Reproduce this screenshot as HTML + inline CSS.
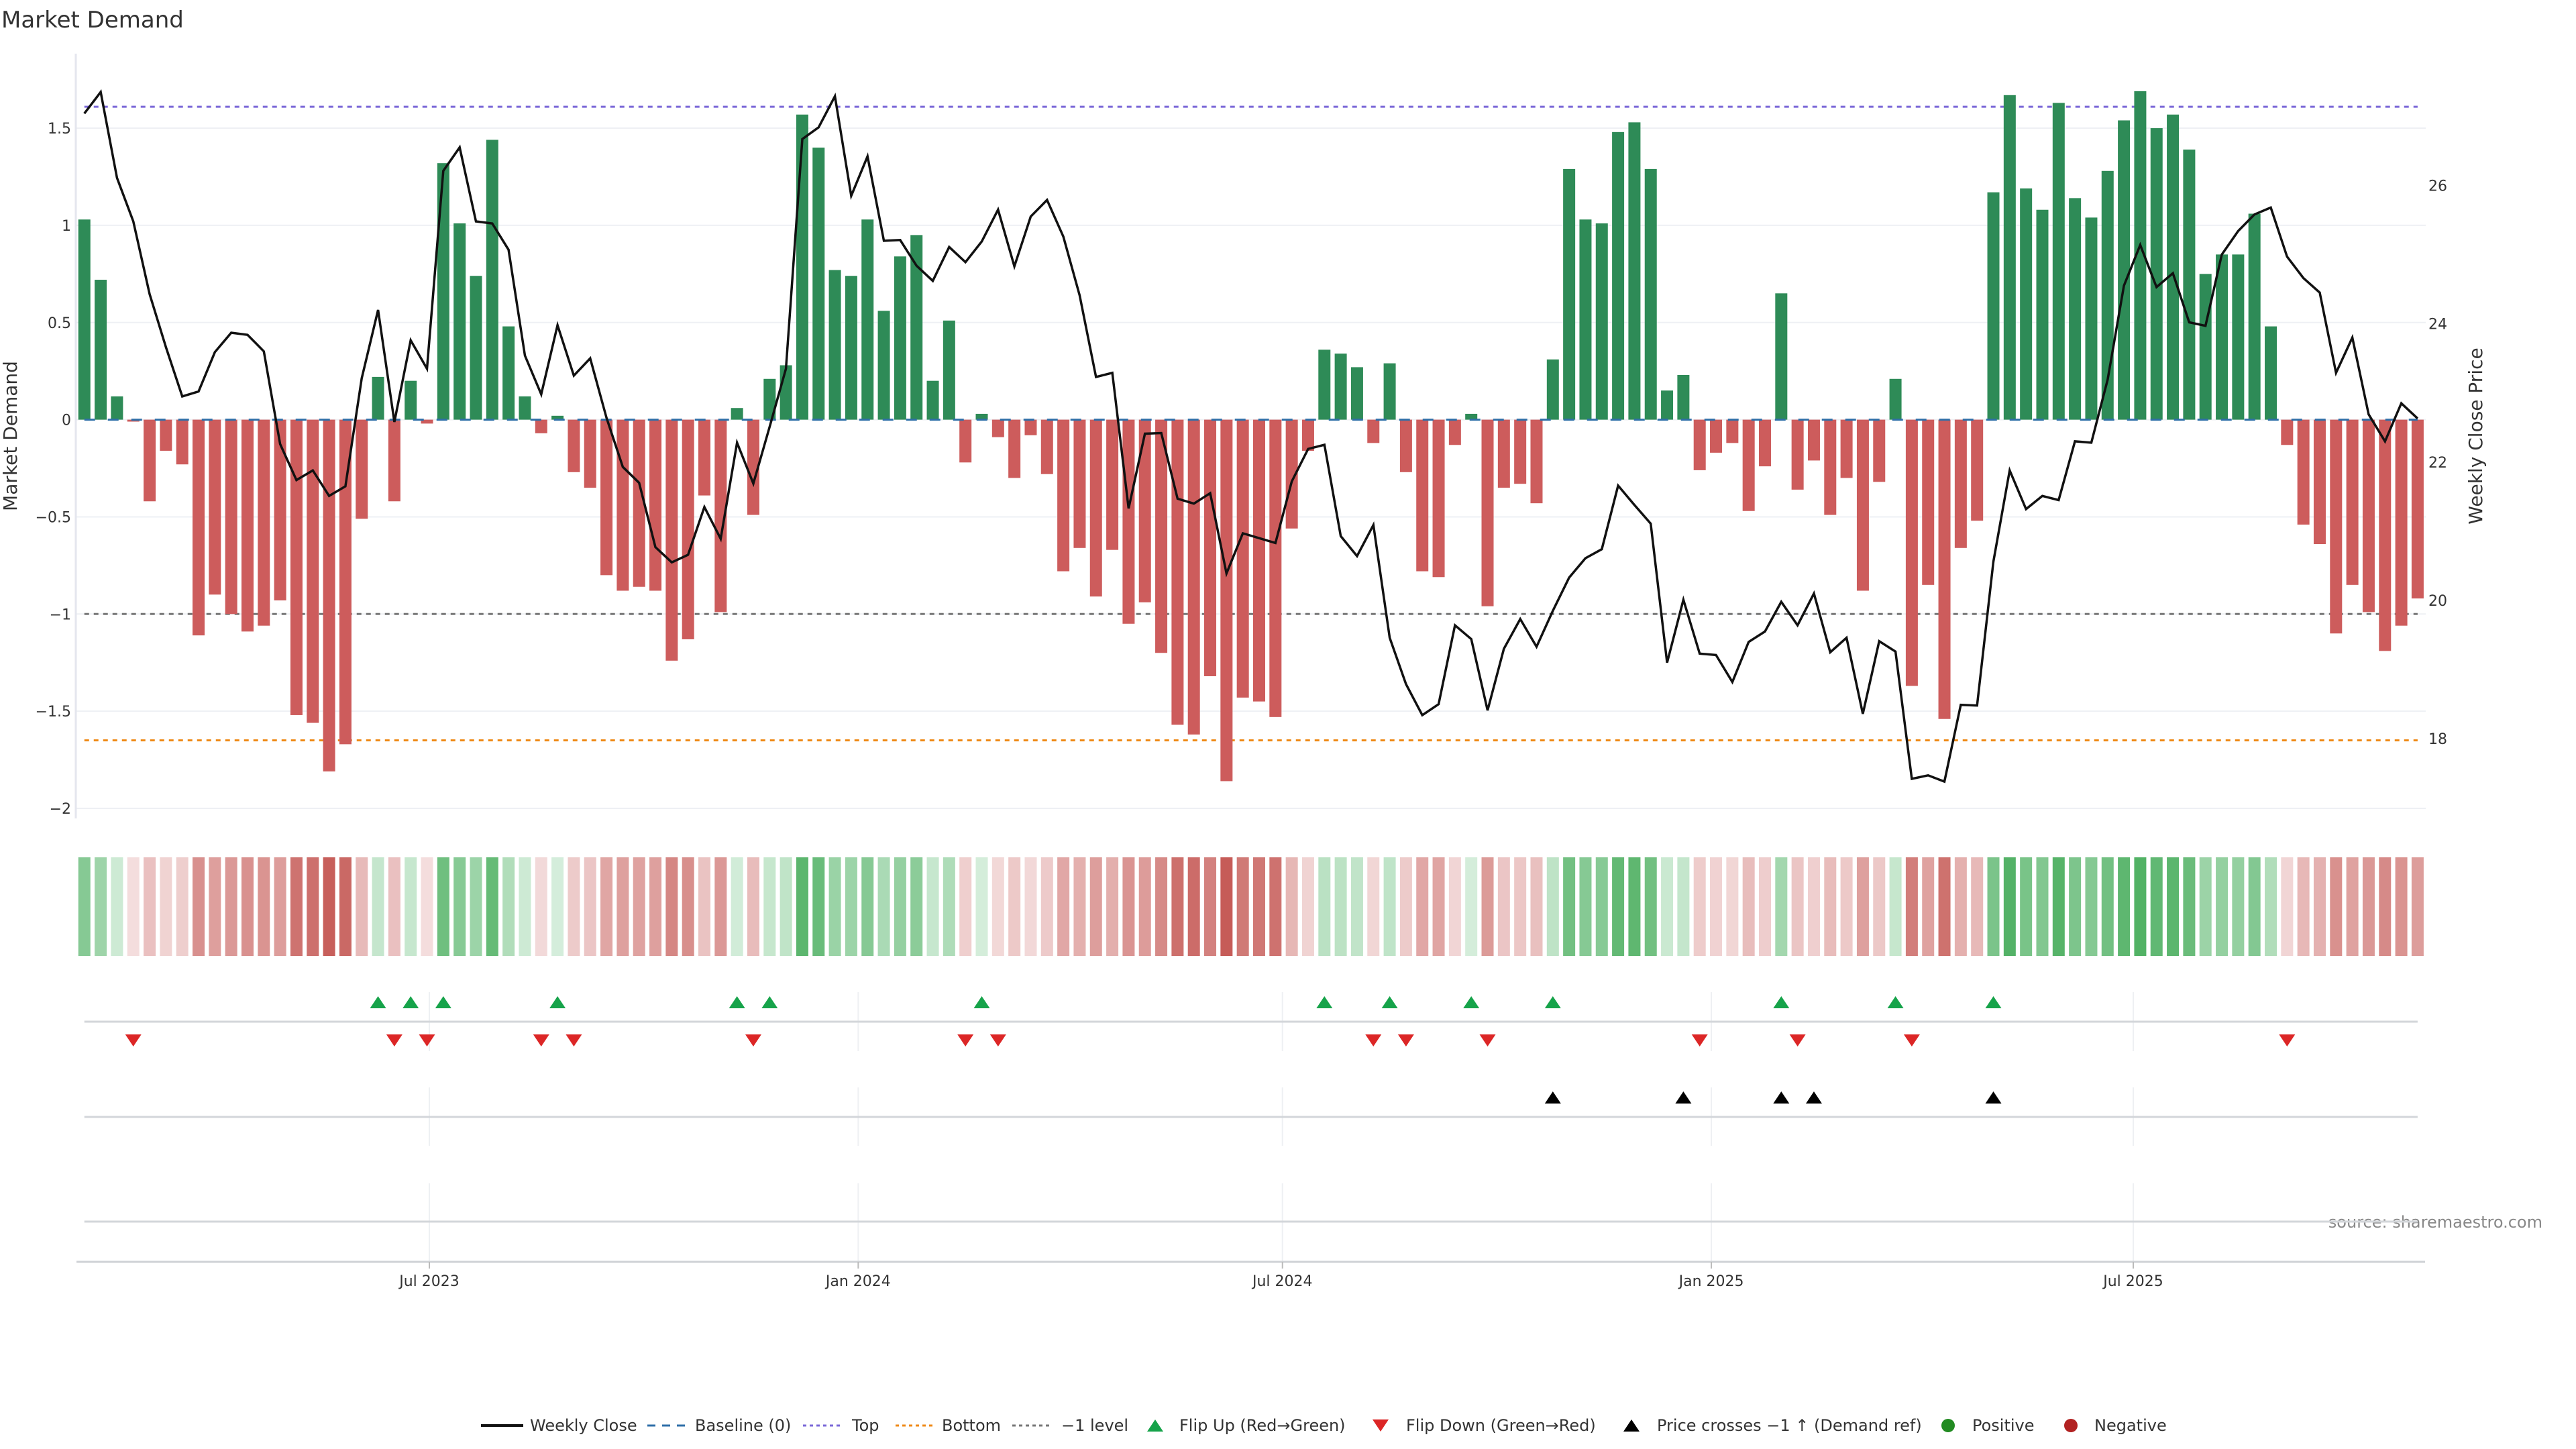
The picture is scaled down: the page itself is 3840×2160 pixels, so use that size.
<!DOCTYPE html>
<html><head><meta charset="utf-8"><title>Market Demand</title>
<style>
html,body{margin:0;padding:0;background:#fff;}
svg{display:block;font-family:"DejaVu Sans","Liberation Sans",sans-serif;}
</style></head>
<body>
<svg id="chart" width="3840" height="2160" viewBox="0 0 3840 2160" xmlns="http://www.w3.org/2000/svg">
<text x="2" y="41" font-size="34" fill="#333">Market Demand</text>
<text transform="translate(25,650) rotate(-90)" text-anchor="middle" font-size="28" fill="#333">Market Demand</text>
<text transform="translate(3700,650) rotate(-90)" text-anchor="middle" font-size="28" fill="#333">Weekly Close Price</text>
<text x="3790" y="1830" text-anchor="end" font-size="24" fill="#888">source: sharemaestro.com</text>
<g id="gGrid"></g><g id="gRef"></g><g id="gBars"></g><g id="gLine"></g><g id="gAxes"></g>
<g id="gHeat"></g><g id="gPanels"></g><g id="gLegend"></g>
</svg>
<script>
// ---- data ----
const startDate = "2023-02-03";
const demandValues = [1.03,0.72,0.12,-0.01,-0.42,-0.16,-0.23,-1.11,-0.90,-1.00,
-1.09,-1.06,-0.93,-1.52,-1.56,-1.81,-1.67,-0.51,0.22,-0.42,
0.20,-0.02,1.32,1.01,0.74,1.44,0.48,0.12,-0.07,0.02,
-0.27,-0.35,-0.80,-0.88,-0.86,-0.88,-1.24,-1.13,-0.39,-0.99,
0.06,-0.49,0.21,0.28,1.57,1.40,0.77,0.74,1.03,0.56,
0.84,0.95,0.20,0.51,-0.22,0.03,-0.09,-0.30,-0.08,-0.28,
-0.78,-0.66,-0.91,-0.67,-1.05,-0.94,-1.20,-1.57,-1.62,-1.32,
-1.86,-1.43,-1.45,-1.53,-0.56,-0.16,0.36,0.34,0.27,-0.12,
0.29,-0.27,-0.78,-0.81,-0.13,0.03,-0.96,-0.35,-0.33,-0.43,
0.31,1.29,1.03,1.01,1.48,1.53,1.29,0.15,0.23,-0.26,
-0.17,-0.12,-0.47,-0.24,0.65,-0.36,-0.21,-0.49,-0.30,-0.88,
-0.32,0.21,-1.37,-0.85,-1.54,-0.66,-0.52,1.17,1.67,1.19,
1.08,1.63,1.14,1.04,1.28,1.54,1.69,1.50,1.57,1.39,
0.75,0.85,0.85,1.06,0.48,-0.13,-0.54,-0.64,-1.10,-0.85,
-0.99,-1.19,-1.06,-0.92];
const closePrices = [27.04,27.35,26.11,25.48,24.43,23.66,22.95,23.02,23.59,23.87,
23.84,23.60,22.26,21.74,21.88,21.51,21.65,23.21,24.20,22.58,
23.76,23.35,26.21,26.55,25.48,25.45,25.07,23.54,22.98,23.98,
23.25,23.50,22.64,21.93,21.70,20.77,20.55,20.66,21.35,20.89,
22.28,21.69,22.51,23.35,26.67,26.84,27.29,25.85,26.42,25.20,
25.21,24.84,24.62,25.11,24.89,25.19,25.65,24.83,25.55,25.79,
25.26,24.41,23.23,23.29,21.33,22.41,22.42,21.47,21.40,21.55,
20.39,20.97,20.90,20.83,21.72,22.19,22.25,20.93,20.64,21.09,
19.46,18.79,18.34,18.50,19.64,19.44,18.41,19.30,19.73,19.33,
19.85,20.33,20.61,20.74,21.66,21.38,21.11,19.10,20.01,19.23,
19.21,18.82,19.40,19.55,19.98,19.64,20.10,19.25,19.46,18.36,
19.41,19.26,17.42,17.47,17.38,18.49,18.48,20.56,21.88,21.32,
21.51,21.45,22.30,22.28,23.19,24.55,25.14,24.53,24.73,24.02,
23.97,25.00,25.34,25.58,25.68,24.97,24.66,24.45,23.29,23.80,
22.69,22.30,22.85,22.63];
const leftTicks = [1.5,1,0.5,0,-0.5,-1,-1.5,-2];
const leftTickLabels = ["1.5","1","0.5","0","\u22120.5","\u22121","\u22121.5","\u22122"];
const rightTicks = [18,20,22,24,26];
const xTickDates = ["2023-07-01","2024-01-01","2024-07-01","2025-01-01","2025-07-01"];
const xTickLabels = ["Jul 2023","Jan 2024","Jul 2024","Jan 2025","Jul 2025"];
const topLevel = 1.61, bottomLevel = -1.65, minusLevel = -1;

// ---- scales ----
const NS = "http://www.w3.org/2000/svg";
const DAY = 86400000;
const x0Date = Date.parse("2023-07-01"), pxPerDay = (3180-640)/731;
function xDate(ms){ return 640 + (ms - x0Date)/DAY*pxPerDay; }
const start = Date.parse(startDate);
function xi(i){ return xDate(start + i*7*DAY); }
function yD(v){ return 625.6 - v*289.7; }
function yP(p){ return 895 - (p-20)*103.1; }
const plotL = 113, plotR = 3616, plotT = 80, plotB = 1220;
const barW = 18;
function mk(tag, attrs, parent, txt){
  const e = document.createElementNS(NS, tag);
  for (const k in attrs) e.setAttribute(k, attrs[k]);
  if (txt !== undefined) e.textContent = txt;
  parent.appendChild(e); return e;
}
const G = id => document.getElementById(id);

// grid + left ticks
leftTicks.forEach((t,k)=>{
  const g = mk('line',{x1:plotL,x2:plotR,y1:yD(t),y2:yD(t),stroke:'#eef0f4','stroke-width':2},G('gGrid'));
  
  
  const tx = mk('text',{x:106,y:yD(t)+8,'text-anchor':'end','font-size':22,fill:'#333'},G('gAxes'),leftTickLabels[k]);
  
  
});
rightTicks.forEach(t=>{
  const tx = mk('text',{x:3620,y:yP(t)+8,'font-size':22,fill:'#333'},G('gAxes'),String(t));
  
  
});
const ax = mk('line',{x1:plotL,x2:plotL,y1:plotT,y2:plotB,stroke:'#e4e6ee','stroke-width':3},G('gAxes'));



// bars
demandValues.forEach((v,i)=>{
  const y1 = yD(Math.max(v,0)), y2 = yD(Math.min(v,0));
  const r = mk('rect',{x:xi(i)-barW/2,y:y1,width:barW,height:Math.max(y2-y1,1),fill:v>=0?'#2e8b57':'#cd5c5c'},G('gBars'));
  
  
});
// reference lines
const xa = xi(0), xb = xi(demandValues.length-1);
function refLine(v,color,dash,name){
  const l = mk('line',{x1:xa,x2:xb,y1:yD(v),y2:yD(v),stroke:color,'stroke-width':3,'stroke-dasharray':dash},G('gRef'));
  
  
}
refLine(topLevel,'#7b68d8','7 7','top-level-line');
refLine(bottomLevel,'#ef8a17','7 7','bottom-level-line');
refLine(minusLevel,'#777','7 7','minus-one-level-line');
const bl = mk('line',{x1:xa,x2:xb,y1:yD(0),y2:yD(0),stroke:'#2f6fa8','stroke-width':3,'stroke-dasharray':'16 19'},G('gBars'));



// price line
const pts = closePrices.map((p,i)=>xi(i).toFixed(1)+','+yP(p).toFixed(1)).join(' ');
const pl = mk('polyline',{points:pts,fill:'none',stroke:'#111','stroke-width':3.5,'stroke-linejoin':'miter'},G('gLine'));



// heat strip
function mix(a,b,t){ return 'rgb('+a.map((c,k)=>Math.round(c+(b[k]-c)*t)).join(',')+')'; }
demandValues.forEach((v,i)=>{
  const t = Math.min(Math.abs(v)/1.85,1);
  const col = v>=0 ? mix([214,238,220],[70,172,90],t) : mix([244,222,222],[198,92,88],t);
  const r = mk('rect',{x:xi(i)-barW/2,y:1278,width:barW,height:147,fill:col},G('gHeat'));
  
  
});

// panels
const P = G('gPanels');
[[1479,1567],[1621,1708],[1764,1881]].forEach(([a,b])=>{
  xTickDates.forEach(d=>{
    const l = mk('line',{x1:xDate(Date.parse(d)),x2:xDate(Date.parse(d)),y1:a,y2:b,stroke:'#eef0f3','stroke-width':2},P);
    
    
  });
});
[1523,1665,1821].forEach(y=>{
  const l = mk('line',{x1:xa,x2:xb,y1:y,y2:y,stroke:'#d3d6da','stroke-width':3},P);
  
  
});
const xl = mk('line',{x1:114,x2:3615,y1:1881,y2:1881,stroke:'#cfd2d6','stroke-width':3},P);


xTickDates.forEach((d,k)=>{
  const x = xDate(Date.parse(d));
  const tk = mk('line',{x1:x,x2:x,y1:1881,y2:1891,stroke:'#bbb','stroke-width':2},P);
  
  
  const tx = mk('text',{x:x,y:1917,'text-anchor':'middle','font-size':22,fill:'#333'},P,xTickLabels[k]);
  
  
});
function tri(x,y,up,color,parent){
  const w=12,h=9;
  const d = up ? `M${x-w},${y+h}L${x+w},${y+h}L${x},${y-h}Z` : `M${x-w},${y-h}L${x+w},${y-h}L${x},${y+h}Z`;
  return mk('path',{d:d,fill:color},parent);
}
const threshold = 20 + (yP(20) - yD(minusLevel))/103.1;
for (let i=1;i<demandValues.length;i++){
  const a = demandValues[i-1], b = demandValues[i];
  if (a<0 && b>=0){ const m = tri(xi(i),1494,true,'#16a34a',P);
    
     }
  if (a>=0 && b<0){ const m = tri(xi(i),1551,false,'#dc2626',P);
    
     }
  if (closePrices[i-1] < threshold && closePrices[i] >= threshold){ const m = tri(xi(i),1636,true,'#000',P);
    
     }
}

// legend
const L = G('gLegend'), ly = 2125;
function legText(x,s){ const t = mk('text',{x:x,y:ly+8,'font-size':24,fill:'#333'},L,s);
  
   }
function legLine(x1,x2,color,dash,w){ const l = mk('line',{x1:x1,x2:x2,y1:ly,y2:ly,stroke:color,'stroke-width':w,'stroke-dasharray':dash},L);
  
   }
legLine(717,780,'#111','none',4); legText(790,'Weekly Close');
legLine(965,1023,'#2f6fa8','12 10',3); legText(1036,'Baseline (0)');
legLine(1197,1256,'#7b68d8','5 5',3); legText(1270,'Top');
legLine(1335,1390,'#ef8a17','5 5',3); legText(1404,'Bottom');
legLine(1509,1566,'#777','5 5',3); legText(1582,'\u22121 level');
let m;
m = tri(1722,ly,true,'#16a34a',L);  
legText(1758,'Flip Up (Red\u2192Green)');
m = tri(2058,ly,false,'#dc2626',L);  
legText(2096,'Flip Down (Green\u2192Red)');
m = tri(2432,ly,true,'#000',L);  
legText(2470,'Price crosses \u22121 \u2191 (Demand ref)');
m = mk('circle',{cx:2904,cy:ly,r:10,fill:'#228b22'},L);  
legText(2940,'Positive');
m = mk('circle',{cx:3087,cy:ly,r:10,fill:'#b22222'},L);  
legText(3122,'Negative');
</script>
</body></html>
